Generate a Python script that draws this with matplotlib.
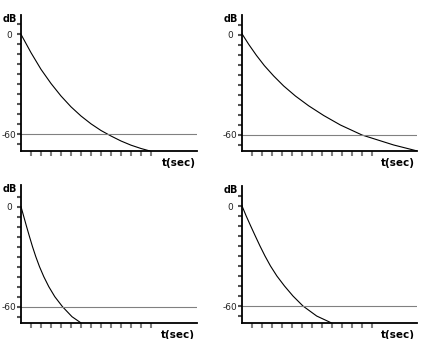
import matplotlib
matplotlib.use("Agg")
import matplotlib.pyplot as plt

# Decay curves (time in ticks, level in dB) for the four rooms
t_a = [0, 1, 2, 3, 4, 5, 6, 7, 8, 9, 10, 11, 12, 12.9]
db_a = [0, -11, -21, -29.5, -37, -43.5, -49, -53.7, -57.7, -61, -64, -66.5, -68.5, -70]

t_b = [0, 0.7, 1.47, 2.27, 3.2, 4.2, 5.37, 6.7, 8.2, 9.87, 12.03, 15.2, 17.5]
db_b = [1, -5.6, -12.2, -18.4, -24.6, -30.6, -36.6, -42.5, -48.3, -54, -60, -66, -69.5]

t_c = [0, 0.28, 0.56, 0.85, 1.15, 1.48, 1.85, 2.28, 2.78, 3.38, 4.15, 5.1, 5.97]
db_c = [0, -6, -12, -18, -24, -30, -36, -42, -48, -54, -60, -66, -69.6]

t_d = [0, 0.45, 0.9, 1.36, 1.83, 2.33, 2.88, 3.52, 4.28, 5.13, 6.13, 7.5, 8.93]
db_d = [0.5, -6, -12, -18, -24, -30, -36, -42, -48, -54, -60, -66, -70]

y_ticks = [6, 0, -6, -12, -18, -24, -30, -36, -42, -48, -54, -60, -66]
y_labels = ["0" if v == 0 else "-60" if v == -60 else "" for v in y_ticks]
x_ticks = list(range(1, 14))
ref_level = -60

W, H = 435, 339
fig = plt.figure(figsize=(W / 100, H / 100), dpi=100)

# pixel boxes: left, right, top, bottom, and y-limits
panels = [
    (t_a, db_a, 21, 197, 15, 151, (-70, 11.6)),
    (t_b, db_b, 241.7, 416.7, 15, 151, (-69.6, 12)),
    (t_c, db_c, 21, 196.7, 185, 322.7, (-69.6, 13)),
    (t_d, db_d, 241.7, 416.7, 186, 322.7, (-70, 12)),
]

for t, db, l, r, top, bot, ylim in panels:
    ax = fig.add_axes([l / W, (H - bot) / H, (r - l) / W, (bot - top) / H])
    ax.set_xlim(0, (r - l) / 10)
    ax.set_ylim(*ylim)
    ax.plot(t, db, color="black", lw=0.8, solid_joinstyle="round")
    ax.axhline(ref_level, color="#808080", lw=0.8)

    for side in ("top", "right"):
        ax.spines[side].set_visible(False)
    for side in ("left", "bottom"):
        ax.spines[side].set_linewidth(1.3)
        ax.spines[side].set_color("black")

    ax.set_yticks(y_ticks)
    ax.set_yticklabels(y_labels, fontsize=6.5, ha="center", color="#222222")
    ax.tick_params(axis="y", direction="out", length=3, width=1.5,
                   color="#555555", pad=5.5)
    ax.set_xticks(x_ticks)
    ax.set_xticklabels([])
    ax.tick_params(axis="x", direction="out", length=3.5, width=1.5,
                   color="#808080")

    ax.annotate("dB", xy=(0, 1), xycoords="axes fraction", xytext=(-3, -3),
                textcoords="offset points", ha="right", va="center",
                fontsize=7, fontweight="bold")
    ax.annotate("t(sec)", xy=(1, 0), xycoords="axes fraction", xytext=(-1, -9),
                textcoords="offset points", ha="right", va="center",
                fontsize=7.5, fontweight="bold")

fig.savefig("out.png", dpi=100)
